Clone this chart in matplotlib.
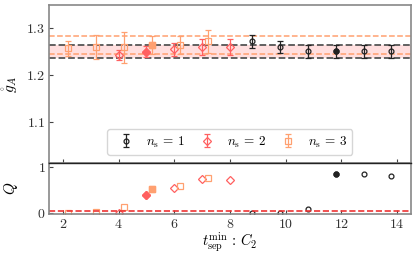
import numpy as np
import matplotlib
matplotlib.use("Agg")
import matplotlib.pyplot as plt

plt.rcParams["font.family"] = "serif"
plt.rcParams["font.serif"] = ["cmr10"]
plt.rcParams["mathtext.fontset"] = "cm"
plt.rcParams["axes.formatter.use_mathtext"] = True
plt.rcParams["font.size"] = 9.5

# t_sep^min values for each source count
t_ns1 = np.array([9, 10, 11, 12, 13, 14])
t_ns2 = np.array([4, 5, 6, 7, 8])
t_ns3 = np.array([2, 3, 4, 5, 6, 7])

# g_A fit results
ga_ns1 = np.array([1.272, 1.260, 1.251, 1.251, 1.251, 1.251])
err_ns1 = np.array([0.014, 0.013, 0.014, 0.014, 0.014, 0.014])
ga_ns2 = np.array([1.243, 1.250, 1.255, 1.260, 1.260])
err_ns2 = np.array([0.011, 0.012, 0.014, 0.017, 0.017])
ga_ns3 = np.array([1.258, 1.260, 1.260, 1.265, 1.265, 1.272])
err_ns3 = np.array([0.016, 0.026, 0.033, 0.019, 0.019, 0.024])

# fit quality
q_ns1 = np.array([0.0, 0.0, 0.08, 0.84, 0.86, 0.81])
q_ns2 = np.array([0.0, 0.39, 0.55, 0.75, 0.72])
q_ns3 = np.array([0.0, 0.02, 0.14, 0.52, 0.59, 0.77])

# chosen fits (filled markers)
pick_ns1 = 3
pick_ns2 = 1
pick_ns3 = 3

q_cut = 0.05

c1 = "#222222"
c2 = "#ff6060"
c3 = "#ffa070"

series = [
    (t_ns1 - 0.2, ga_ns1, err_ns1, q_ns1, pick_ns1, c1, "o", 3.5, r"$n_\mathrm{s}\,=\,1$"),
    (t_ns2 + 0.0, ga_ns2, err_ns2, q_ns2, pick_ns2, c2, "D", 4, r"$n_\mathrm{s}\,=\,2$"),
    (t_ns3 + 0.2, ga_ns3, err_ns3, q_ns3, pick_ns3, c3, "s", 4, r"$n_\mathrm{s}\,=\,3$"),
]

fig = plt.figure(figsize=(4.15, 2.57), dpi=100)
ax = fig.add_axes([0.118, 0.366, 0.872, 0.615])
axq = fig.add_axes([0.118, 0.167, 0.872, 0.199], sharex=ax)

# bands from chosen fits
g1, e1 = ga_ns1[pick_ns1], err_ns1[pick_ns1]
ax.axhspan(g1 - e1, g1 + e1, color="#ff8080", alpha=0.25, lw=0, zorder=0)
for v in (g1 - e1, g1 + e1):
    ax.axhline(v, color="#555555", ls="--", lw=1.3, zorder=1)
g3, e3 = ga_ns3[pick_ns3], err_ns3[pick_ns3]
for v in (g3 - e3, g3 + e3):
    ax.axhline(v, color=c3, ls="--", lw=1.1, zorder=1)

for x, y, e, q, pick, c, m, ms, lab in series:
    ax.errorbar(x, y, yerr=e, fmt=m, ms=ms, mfc="none", mec=c, ecolor=c,
                capsize=2.5, elinewidth=0.9, mew=0.9, label=lab, zorder=3)
    ax.plot(x[pick], y[pick], m, ms=ms, color=c, zorder=4)
    axq.plot(x, q, m, ms=ms, mfc="none", mec=c, mew=0.9, clip_on=True)
    axq.plot(x[pick], q[pick], m, ms=ms, color=c)

axq.axhline(q_cut, color="#ee3333", ls="--", lw=1.2)

ax.set_ylim(1.013, 1.35)
ax.set_yticks([1.1, 1.2, 1.3])
ax.set_ylabel(r"$\mathring{g}_A$", fontsize=11)
ax.legend(loc="lower center", ncol=3, fontsize=9.5, handletextpad=0.5,
          columnspacing=0.7, borderaxespad=0.6)

axq.set_xlim(1.5, 14.5)
axq.set_ylim(-0.02, 1.09)
axq.set_yticks([0, 1])
axq.set_xticks([2, 4, 6, 8, 10, 12, 14])
axq.set_ylabel(r"$Q$", fontsize=11)
axq.set_xlabel(r"$t_\mathrm{sep}^\mathrm{min}\,:\,C_2$", fontsize=10.5, labelpad=0)

for a in (ax, axq):
    a.tick_params(direction="in", length=3, colors="#444444", labelcolor="#333333",
                  labelsize=10, pad=2.5)
    for s in a.spines.values():
        s.set_color("#888888")
        s.set_linewidth(1.2)
plt.setp(ax.get_xticklabels(), visible=False)
axq.spines["top"].set_color("#222222")
axq.spines["top"].set_linewidth(1.0)
ax.yaxis.set_label_coords(-0.08, 0.5)
axq.yaxis.set_label_coords(-0.08, 0.5)

fig.savefig("out.png", dpi=100)
